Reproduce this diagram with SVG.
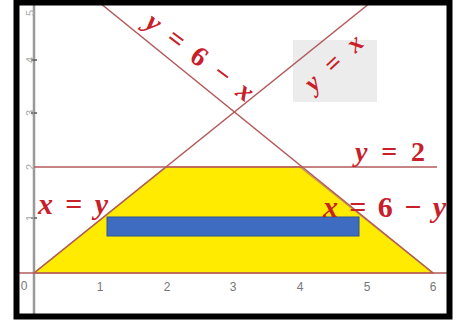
<svg xmlns="http://www.w3.org/2000/svg" width="459" height="324" viewBox="0 0 459 324">
<style>
.ln{stroke:#b35a5a;stroke-width:1.6;fill:none}
.ax{stroke:#999;stroke-width:2.5}
.tk{stroke:#555;stroke-width:1.5}
.lbl{font-family:"Liberation Serif",serif;font-style:italic;font-weight:bold;fill:#c8202a}
.up{font-style:normal}
.num{font-family:"Liberation Sans",Arial,sans-serif;font-size:12px;fill:#777}
.ynum{font-family:"Liberation Sans",Arial,sans-serif;font-size:11px;fill:#aaa}
</style>
<rect width="459" height="324" fill="#fff"/>
<g id="axes">
<line class="ax" x1="34" y1="3" x2="34" y2="316"/>
<line class="tk" x1="31" y1="60" x2="37" y2="60"/>
<line class="tk" x1="31" y1="113" x2="37" y2="113"/>
<line class="tk" x1="31" y1="218" x2="37" y2="218"/>
<g class="ynum" text-anchor="middle">
<text transform="translate(30 13) rotate(-90)" y="4">5</text>
<text transform="translate(30 60) rotate(-90)" y="4">4</text>
<text transform="translate(30 113) rotate(-90)" y="4">3</text>
<text transform="translate(30 167) rotate(-90)" y="4">2</text>
<text transform="translate(30 218) rotate(-90)" y="4">1</text>
</g>
<g class="num" text-anchor="middle">
<text x="24" y="290">0</text>
<text x="100" y="291">1</text>
<text x="167" y="291">2</text>
<text x="233" y="291">3</text>
<text x="300" y="291">4</text>
<text x="367" y="291">5</text>
<text x="433" y="291">6</text>
</g>
</g>
<rect id="note-box" x="293" y="40" width="84" height="62" fill="#ececec"/>
<g id="region">
<polygon points="34,273 166,167 300,167 433,273" fill="#ffeb00" stroke="#c8a040" stroke-width="1.5"/>
</g>
<g id="rectangle">
<rect x="107" y="217" width="252" height="19" fill="#3d6cc0" stroke="#2f5597" stroke-width="1"/>
</g>
<g id="connectors">
<line class="ln" x1="100" y1="3" x2="433" y2="273"/>
<line class="ln" x1="34" y1="273" x2="370" y2="3"/>
<line class="ln" x1="34" y1="167" x2="437" y2="167"/>
<line class="ln" x1="19" y1="273" x2="447" y2="273"/>
</g>
<g id="labels">
<text class="lbl" font-size="28" text-anchor="middle" x="200" y="66" transform="rotate(37 200 57)" textLength="128" lengthAdjust="spacing">y <tspan class="up">=</tspan> <tspan class="up">6</tspan> <tspan class="up">−</tspan> x</text>
<text class="lbl" font-size="26" text-anchor="middle" x="334" y="71" transform="rotate(-43 334 63)" textLength="70" lengthAdjust="spacing">y <tspan class="up">=</tspan> x</text>
<text class="lbl" font-size="28" x="355" y="161" textLength="70" lengthAdjust="spacing">y <tspan class="up">=</tspan> <tspan class="up">2</tspan></text>
<text class="lbl" font-size="30" x="38" y="214" textLength="70" lengthAdjust="spacing">x <tspan class="up">=</tspan> y</text>
<text class="lbl" font-size="30" x="323" y="217" textLength="123" lengthAdjust="spacing">x <tspan class="up">=</tspan> <tspan class="up">6</tspan> <tspan class="up">−</tspan> y</text>
</g>
<rect x="16.5" y="2.5" width="433" height="314" fill="none" stroke="#000" stroke-width="6"/>
</svg>
